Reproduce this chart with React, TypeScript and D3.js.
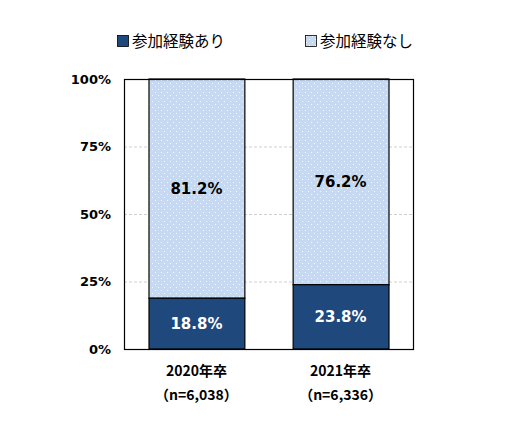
import React, {useEffect, useRef} from "react";
import * as d3 from "d3";

const categories = ["2020年卒", "2021年卒"];
const sampleSizes = ["（n=6,038）", "（n=6,336）"];
const series = ["参加経験あり", "参加経験なし"];
const withExperience = [18.8, 23.8];
const withoutExperience = [81.2, 76.2];
const yTicks = [0, 25, 50, 75, 100];

const DARK = "#1F497D";
const LIGHT = "#C6D9F1";
const NUM_FONT = "'DejaVu Sans', Verdana, sans-serif";
const JP_FONT = "'Noto Sans CJK JP', sans-serif";

const App: React.FC = () => {
    const svgRef = useRef<SVGSVGElement | null>(null);

    useEffect(() => {
        if (!svgRef.current) return;
        const svg = d3.select(svgRef.current);
        svg.selectAll("*").remove();

        const margin = {top: 79, right: 93, bottom: 74, left: 124};
        const width = 506;
        const height = 423;
        const chartWidth = width - margin.left - margin.right;
        const chartHeight = height - margin.top - margin.bottom;

        // dot pattern for the light series
        const defs = svg.append("defs");
        const pattern = defs
            .append("pattern")
            .attr("id", "dots")
            .attr("width", 6)
            .attr("height", 6)
            .attr("patternUnits", "userSpaceOnUse");
        pattern.append("rect").attr("width", 6).attr("height", 6).attr("fill", LIGHT);
        pattern.append("rect").attr("x", 1).attr("y", 1).attr("width", 1).attr("height", 1)
            .attr("fill", "#F4F8FD").attr("shape-rendering", "crispEdges");
        pattern.append("rect").attr("x", 4).attr("y", 4).attr("width", 1).attr("height", 1)
            .attr("fill", "#F4F8FD").attr("shape-rendering", "crispEdges");

        const x = d3
            .scaleBand()
            .domain(categories)
            .range([0, chartWidth])
            .paddingInner(0.335)
            .paddingOuter(0.17);

        const y = d3.scaleLinear().domain([0, 100]).range([chartHeight, 0]);

        const chart = svg
            .append("g")
            .attr("transform", `translate(${margin.left},${margin.top})`);

        // grid lines
        chart
            .selectAll(".grid")
            .data(yTicks.filter((t) => t > 0 && t < 100))
            .join("line")
            .attr("x1", 0)
            .attr("x2", chartWidth)
            .attr("y1", (d) => y(d) + 0.5)
            .attr("y2", (d) => y(d) + 0.5)
            .attr("stroke", "#D0D0D0")
            .attr("stroke-dasharray", "3,2");

        // stacked bars
        const stacks = categories.map((c, i) => ({
            cat: c,
            a: withExperience[i],
            b: withoutExperience[i],
        }));

        chart
            .selectAll(".bar-b")
            .data(stacks)
            .join("rect")
            .attr("x", (d) => (x(d.cat) || 0) + 0.5)
            .attr("y", (d) => y(d.a + d.b))
            .attr("width", x.bandwidth())
            .attr("height", (d) => y(d.a) - y(d.a + d.b))
            .attr("fill", "url(#dots)")
            .attr("stroke", "#000")
            .attr("stroke-width", 1.2);

        chart
            .selectAll(".bar-a")
            .data(stacks)
            .join("rect")
            .attr("x", (d) => (x(d.cat) || 0) + 0.5)
            .attr("y", (d) => y(d.a))
            .attr("width", x.bandwidth())
            .attr("height", (d) => chartHeight - y(d.a))
            .attr("fill", DARK)
            .attr("stroke", "#000")
            .attr("stroke-width", 1.2);

        // value labels
        chart
            .selectAll(".lab-b")
            .data(stacks)
            .join("text")
            .attr("x", (d) => (x(d.cat) || 0) + x.bandwidth() / 2)
            .attr("y", (d) => (y(d.a) + y(d.a + d.b)) / 2)
            .attr("dy", "0.36em")
            .attr("text-anchor", "middle")
            .attr("font-family", NUM_FONT)
            .attr("font-weight", "bold")
            .attr("font-size", 15)
            .attr("fill", "#000")
            .text((d) => `${d.b.toFixed(1)}%`);

        chart
            .selectAll(".lab-a")
            .data(stacks)
            .join("text")
            .attr("x", (d) => (x(d.cat) || 0) + x.bandwidth() / 2)
            .attr("y", (d) => (y(d.a) + chartHeight) / 2)
            .attr("dy", "0.36em")
            .attr("text-anchor", "middle")
            .attr("font-family", NUM_FONT)
            .attr("font-weight", "bold")
            .attr("font-size", 15)
            .attr("fill", "#fff")
            .text((d) => `${d.a.toFixed(1)}%`);

        // plot border
        chart
            .append("rect")
            .attr("x", 0.5)
            .attr("y", 0.5)
            .attr("width", chartWidth)
            .attr("height", chartHeight)
            .attr("fill", "none")
            .attr("stroke", "#000")
            .attr("stroke-width", 1.2);

        // y axis labels
        chart
            .selectAll(".ytick")
            .data(yTicks)
            .join("text")
            .attr("x", -13)
            .attr("y", (d) => y(d))
            .attr("dy", "0.36em")
            .attr("text-anchor", "end")
            .attr("font-family", NUM_FONT)
            .attr("font-weight", "bold")
            .attr("font-size", 13)
            .text((d) => `${d}%`);

        // x axis labels
        chart
            .selectAll(".xcat")
            .data(categories)
            .join("text")
            .attr("x", (d) => (x(d) || 0) + x.bandwidth() / 2)
            .attr("y", chartHeight + 27)
            .attr("text-anchor", "middle")
            .attr("font-family", JP_FONT)
            .attr("font-weight", "bold")
            .attr("font-size", 14)
            .text((d) => d);

        chart
            .selectAll(".xn")
            .data(categories)
            .join("text")
            .attr("x", (d) => (x(d) || 0) + x.bandwidth() / 2)
            .attr("y", chartHeight + 51)
            .attr("text-anchor", "middle")
            .attr("font-family", JP_FONT)
            .attr("font-weight", "bold")
            .attr("font-size", 14)
            .text((_, i) => sampleSizes[i]);

        // legend
        const legendX = [117, 305];
        const legend = svg
            .selectAll(".legend")
            .data(series)
            .join("g")
            .attr("transform", (_, i) => `translate(${legendX[i]},35)`);

        legend
            .append("rect")
            .attr("x", 0.5)
            .attr("y", 0.5)
            .attr("width", 11)
            .attr("height", 11)
            .attr("fill", (_, i) => (i === 0 ? DARK : "url(#dots)"))
            .attr("stroke", "#000")
            .attr("stroke-width", 0.8);

        legend
            .append("text")
            .attr("x", 15)
            .attr("y", 6)
            .attr("dy", "0.36em")
            .attr("font-family", JP_FONT)
            .attr("font-size", 15.5)
            .attr("fill", "#000")
            .text((d) => d);
    }, []);

    return (
        <svg
            ref={svgRef}
            width={506}
            height={423}
            style={{position: "absolute", left: 0, top: 0, background: "#fff"}}
        ></svg>
    );
};

export default App;
